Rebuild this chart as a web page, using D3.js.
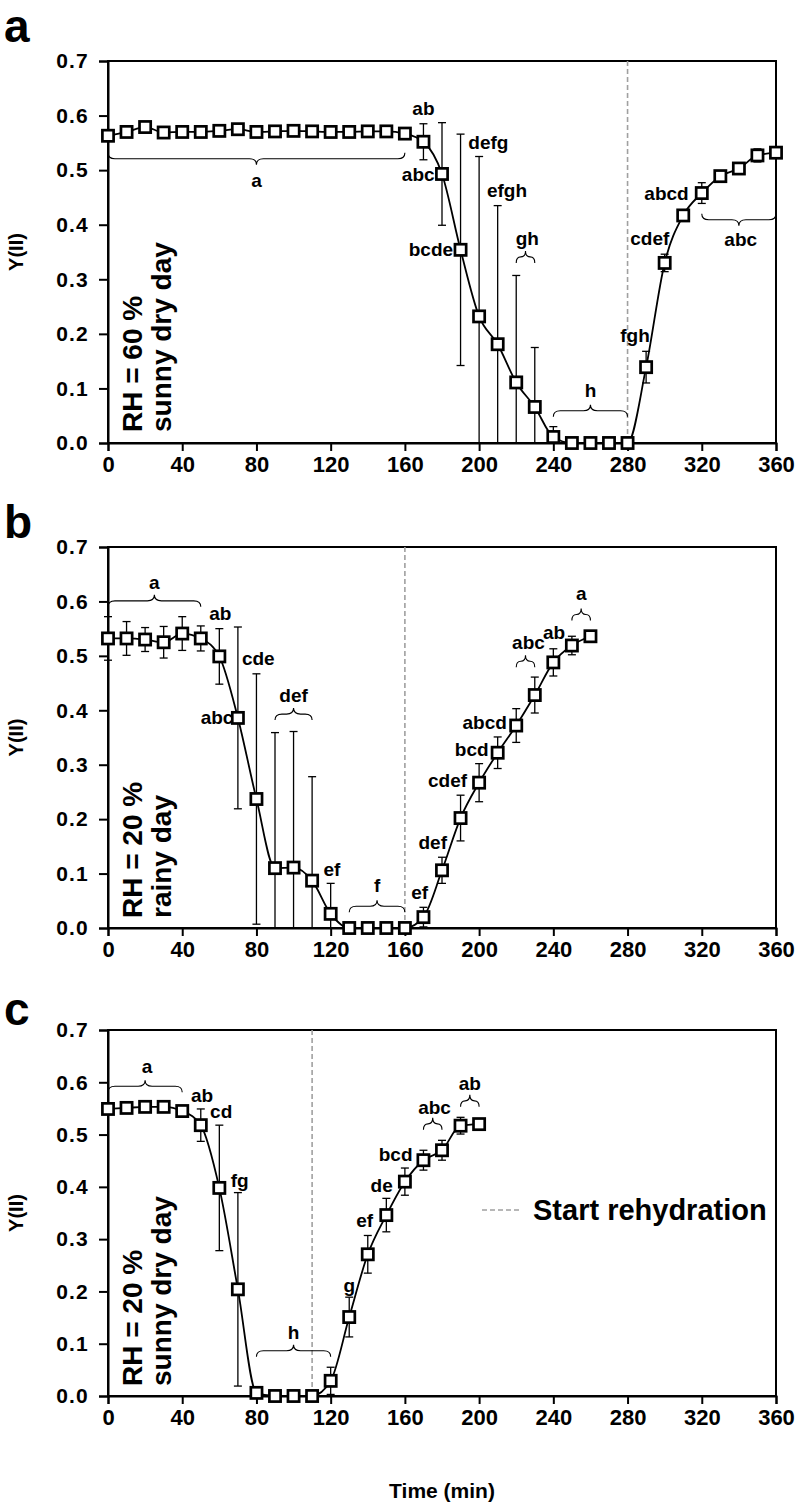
<!DOCTYPE html>
<html><head><meta charset="utf-8">
<script src="https://cdn.jsdelivr.net/npm/d3@7"></script>
<style>
html,body{margin:0;padding:0;background:#fff;}
svg text{font-family:"Liberation Sans",Arial,Helvetica,sans-serif;font-weight:bold;fill:#000;}
</style></head>
<body>
<svg id="chart" width="799" height="1504"></svg>
<script>
// ---------- DATA ----------
const timesA = d3.range(0, 361, 10);
const valuesA = [0.563,0.570,0.579,0.569,0.570,0.570,0.572,0.575,0.570,0.571,0.572,0.571,0.570,0.570,0.571,0.571,0.567,
  0.552,0.493,0.354,0.232,0.181,0.111,0.066,0.011,0,0,0,0,0.139,0.330,0.417,0.458,0.489,0.503,0.527,0.532];
const errA = [0.004,0.004,0.004,0.004,0.004,0.004,0.004,0.004,0.004,0.004,0.004,0.004,0.004,0.004,0.004,0.004,0.010,
  0.033,0.094,0.212,0.293,0.254,0.196,0.109,0.019,0,0,0,0,0.029,0.016,0.006,0.019,0.006,0.006,0.012,0.010];

const timesB = d3.range(0, 261, 10);
const valuesB = [0.532,0.532,0.530,0.525,0.541,0.532,0.499,0.386,0.237,0.110,0.111,0.087,0.026,0,0,0,0,
  0.020,0.106,0.202,0.267,0.322,0.372,0.428,0.488,0.519,0.536];
const errB = [0.040,0.031,0.022,0.029,0.031,0.023,0.051,0.167,0.230,0.249,0.250,0.191,0.056,0,0,0,0,
  0.018,0.024,0.042,0.035,0.029,0.031,0.033,0.025,0.017,0.004];

const timesC = d3.range(0, 201, 10);
const valuesC = [0.549,0.551,0.553,0.553,0.545,0.518,0.398,0.204,0.006,0,0,0,0.029,0.151,0.271,0.346,0.410,0.451,0.470,0.517,0.520];
const errC = [0.005,0.004,0.004,0.004,0.008,0.031,0.120,0.185,0.004,0,0,0,0.026,0.038,0.036,0.032,0.026,0.019,0.019,0.016,0.004];

const rehydrationStart = [280, 160, 110];
const xTicks = [0,40,80,120,160,200,240,280,320,360];
const yTicks = [0,0.1,0.2,0.3,0.4,0.5,0.6,0.7];
const panelLetters = ["a","b","c"];
const conditionLine1 = ["RH = 60 %","RH = 20 %","RH = 20 %"];
const conditionLine2 = ["sunny dry day","rainy day","sunny dry day"];

// letter annotations: [text, time, value, anchor]
const lettersA = [["a",80,0.482,"middle"],["ab",170,0.614,"middle"],["abc",176,0.493,"end"],["bcde",186,0.355,"end"],
  ["defg",205,0.552,"middle"],["efgh",215,0.463,"middle"],["gh",226,0.375,"middle"],["h",260,0.097,"middle"],
  ["fgh",284,0.197,"middle"],["cdef",292,0.375,"middle"],["abcd",301,0.458,"middle"],["abc",341,0.373,"middle"]];
const lettersB = [["a",25,0.636,"middle"],["ab",60.5,0.578,"middle"],["cde",81,0.495,"middle"],["abc",67.6,0.387,"end"],
  ["def",100,0.428,"middle"],["ef",120.7,0.109,"middle"],["f",145,0.078,"middle"],["ef",168,0.066,"middle"],
  ["def",175,0.158,"middle"],["cdef",183,0.271,"middle"],["bcd",196,0.329,"middle"],["abcd",203,0.379,"middle"],
  ["abc",226.6,0.526,"middle"],["ab",240.4,0.543,"middle"],["a",255,0.615,"middle"]];
const lettersC = [["a",21,0.630,"middle"],["ab",50.7,0.576,"middle"],["cd",61,0.545,"middle"],["fg",71,0.413,"middle"],
  ["h",100,0.123,"middle"],["g",130,0.212,"middle"],["ef",138.3,0.336,"middle"],["de",147.5,0.403,"middle"],
  ["bcd",155,0.463,"middle"],["abc",176,0.553,"middle"],["ab",195,0.598,"middle"]];

// braces: [fromTime, toTime, baseValue, direction(-1 tip up, 1 tip down)]
const bracesA = [[0,160,0.532,1],[220,230,0.330,-1],[240,280,0.048,-1],[320,360,0.420,1]];
const bracesB = [[0,50,0.590,-1],[90,110,0.382,-1],[130,160,0.029,-1],[220,230,0.479,-1],[250,260,0.565,-1]];
const bracesC = [[0,40,0.581,-1],[80,120,0.075,-1],[170,180,0.509,-1],[190,200,0.553,-1]];

// ---------- LAYOUT ----------
const panels = [
  {times:timesA, vals:valuesA, errs:errA, letters:lettersA, braces:bracesA, top:61, bottom:443, letterY:42, labelBottom:432},
  {times:timesB, vals:valuesB, errs:errB, letters:lettersB, braces:bracesB, top:547, bottom:928, letterY:538, labelBottom:918},
  {times:timesC, vals:valuesC, errs:errC, letters:lettersC, braces:bracesC, top:1030, bottom:1396, letterY:1025, labelBottom:1386}
];
const left = 108, right = 776;
const svg = d3.select("#chart");
const x = d3.scaleLinear().domain([0,360]).range([left,right]);

function bracePath(x1,x2,yb,dir,h){
  const ym = yb + dir*h*0.5, yt = yb + dir*h, xm=(x1+x2)/2, r=Math.min(7,(x2-x1)/4);
  return `M${x1},${yb} Q${x1},${ym} ${x1+r},${ym} L${xm-r},${ym} Q${xm},${ym} ${xm},${yt} Q${xm},${ym} ${xm+r},${ym} L${x2-r},${ym} Q${x2},${ym} ${x2},${yb}`;
}

panels.forEach((p,i)=>{
  const y = d3.scaleLinear().domain([0,0.7]).range([p.bottom,p.top]);
  const g = svg.append("g");

  // frame
  g.append("rect").attr("x",left).attr("y",p.top).attr("width",right-left).attr("height",p.bottom-p.top)
    .attr("fill","none").attr("stroke","#000").attr("stroke-width",2);

  // axes
  const xa = g.append("g").attr("transform",`translate(0,${p.bottom})`)
    .call(d3.axisBottom(x).tickValues(xTicks).tickSize(8).tickPadding(5).tickFormat(d3.format("d")));
  const ya = g.append("g").attr("transform",`translate(${left},0)`)
    .call(d3.axisLeft(y).tickValues(yTicks).tickSize(9).tickPadding(10).tickFormat(d3.format(".1f")));
  [xa,ya].forEach(a=>{
    a.select(".domain").attr("stroke","#000").attr("stroke-width",2);
    a.selectAll(".tick line").attr("stroke","#000").attr("stroke-width",2);
    a.selectAll(".tick text").style("font-size","22px").style("font-family","'Liberation Sans',Arial,sans-serif").style("font-weight","bold");
  });
  ya.selectAll(".tick text").style("font-size","21px").style("letter-spacing","1.2px");

  // y title
  g.append("text").attr("transform",`translate(23,${(p.top+p.bottom)/2}) rotate(-90)`)
    .attr("text-anchor","middle").style("font-size","20px").text("Y(II)");

  // panel letter
  g.append("text").attr("x",4).attr("y",p.letterY).style("font-size","46px").text(panelLetters[i]);

  // condition labels
  g.append("text").attr("transform",`translate(142,${p.labelBottom}) rotate(-90)`).style("font-size","28px").text(conditionLine1[i]);
  g.append("text").attr("transform",`translate(171,${p.labelBottom}) rotate(-90)`).style("font-size","28px").text(conditionLine2[i]);

  // rehydration dashed line
  g.append("line").attr("x1",x(rehydrationStart[i])).attr("x2",x(rehydrationStart[i]))
    .attr("y1",p.top).attr("y2",p.bottom).attr("stroke","#a0a0a0").attr("stroke-width",1.6).attr("stroke-dasharray","5,3");

  const pts = p.times.map((t,k)=>({t, v:p.vals[k], e:p.errs[k]}));

  // error bars
  const eb = g.append("g").attr("stroke","#000").attr("stroke-width",1.3);
  pts.filter(d=>d.e>0).forEach(d=>{
    const yt = y(d.v+d.e), ybt = y(Math.max(0,d.v-d.e));
    eb.append("line").attr("x1",x(d.t)).attr("x2",x(d.t)).attr("y1",yt).attr("y2",ybt);
    eb.append("line").attr("x1",x(d.t)-4).attr("x2",x(d.t)+4).attr("y1",yt).attr("y2",yt);
    if (d.v-d.e>0) eb.append("line").attr("x1",x(d.t)-4).attr("x2",x(d.t)+4).attr("y1",ybt).attr("y2",ybt);
  });

  // line
  g.append("path").datum(pts)
    .attr("d",d3.line().x(d=>x(d.t)).y(d=>y(d.v)).curve(d3.curveMonotoneX))
    .attr("fill","none").attr("stroke","#000").attr("stroke-width",1.8);

  // markers
  g.selectAll("rect.m").data(pts).enter().append("rect").attr("class","m")
    .attr("x",d=>x(d.t)-5.6).attr("y",d=>y(d.v)-5.6).attr("width",11.2).attr("height",11.2)
    .attr("fill","#fff").attr("stroke","#000").attr("stroke-width",2.7);

  // braces
  p.braces.forEach(b=>{
    g.append("path").attr("d",bracePath(x(b[0]),x(b[1]),y(b[2]),b[3],12))
      .attr("fill","none").attr("stroke","#000").attr("stroke-width",1.1);
  });

  // letters
  p.letters.forEach(l=>{
    g.append("text").attr("x",x(l[1])).attr("y",y(l[2])).attr("dy","0.36em")
      .attr("text-anchor",l[3]).style("font-size","19px").text(l[0]);
  });

  if (i===2){
    const ly = 1210;
    g.append("line").attr("x1",482).attr("x2",520).attr("y1",ly).attr("y2",ly)
      .attr("stroke","#a0a0a0").attr("stroke-width",1.6).attr("stroke-dasharray","5,3");
    g.append("text").attr("x",533).attr("y",ly).attr("dy","0.36em").style("font-size","29px").text("Start rehydration");
  }
});

svg.append("text").attr("x",442).attr("y",1498).attr("text-anchor","middle").style("font-size","21px").text("Time (min)");
</script>
</body></html>
